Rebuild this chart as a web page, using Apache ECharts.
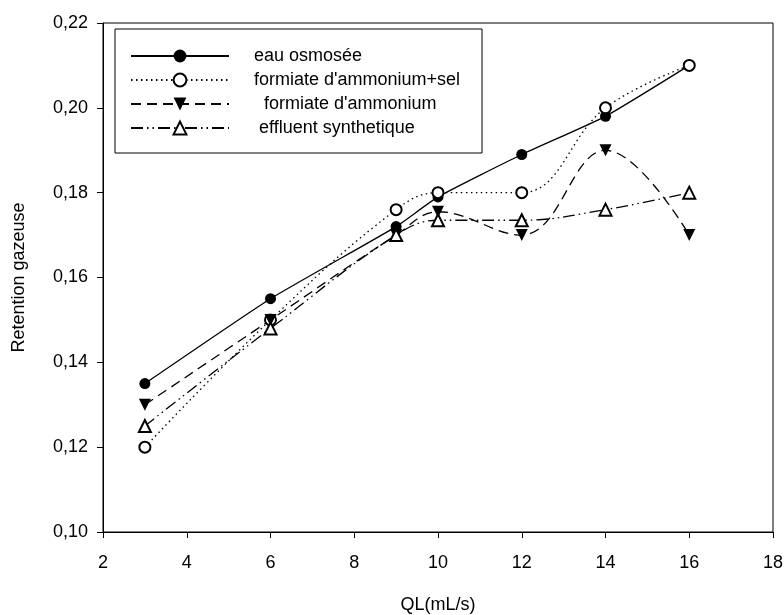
<!DOCTYPE html>
<html>
<head>
<meta charset="utf-8">
<script src="https://cdn.jsdelivr.net/npm/echarts@6/dist/echarts.min.js"></script>
<style>
  html, body { margin: 0; padding: 0; background: #fff; }
  #main { width: 784px; height: 615px; }
</style>
</head>
<body>
<div id="main"></div>
<script>
// débits QL (mL/s)
var ql = [3, 6, 9, 10, 12, 14, 16];

// rétention gazeuse par milieu
var eauOsmosee = [0.135, 0.155, 0.172, 0.179, 0.189, 0.198, 0.210];
var formiateSel = [0.120, 0.150, 0.176, 0.180, 0.180, 0.200, 0.210];
var formiate = [0.130, 0.150, 0.170, 0.1755, 0.170, 0.190, 0.170];
var effluent = [0.125, 0.148, 0.170, 0.1735, 0.1735, 0.176, 0.180];

var seriesNames = ['eau osmosée', "formiate d'ammonium+sel", "formiate d'ammonium", 'effluent synthetique'];
var legendIndent = [0, 0, 2, 1];

function pairs(ys) {
  return ql.map(function (x, i) { return [x, ys[i]]; });
}

var font = "'Liberation Sans', Arial, sans-serif";

var myChart = echarts.init(document.getElementById('main'));

var option = {
  backgroundColor: '#fff',
  animation: false,
  textStyle: { fontFamily: font, color: '#000' },
  grid: {
    left: 103, right: 11, top: 23, bottom: 83,
    outerBoundsMode: 'none',
    containLabel: false,
    show: true, borderColor: '#000', borderWidth: 1
  },
  legend: {
    orient: 'vertical',
    left: 115,
    top: 29,
    padding: [18, 22, 16, 15],
    borderColor: '#000',
    borderWidth: 1,
    itemWidth: 98,
    itemHeight: 16,
    itemGap: 6,
    textStyle: { fontFamily: font, fontSize: 18, color: '#000', padding: [0, 0, 0, 20] },
    formatter: function (name) {
      var k = seriesNames.indexOf(name);
      return new Array(legendIndent[k] + 1).join(' ') + name;
    },
    data: seriesNames
  },
  xAxis: {
    type: 'value',
    min: 2, max: 18, interval: 2,
    name: 'QL(mL/s)',
    nameLocation: 'middle',
    nameGap: 64,
    nameTextStyle: { fontSize: 18, fontFamily: font, color: '#000' },
    axisLine: { lineStyle: { color: '#000', width: 1 } },
    axisTick: { inside: false, length: 6, lineStyle: { color: '#000' } },
    axisLabel: { fontSize: 18, fontFamily: font, color: '#000', margin: 22 },
    splitLine: { show: false }
  },
  yAxis: {
    type: 'value',
    min: 0.10, max: 0.22, interval: 0.02,
    name: 'Retention gazeuse',
    nameLocation: 'middle',
    nameRotate: 90,
    nameGap: 75,
    nameTextStyle: { fontSize: 18, fontFamily: font, color: '#000' },
    axisLine: { show: true, lineStyle: { color: '#000', width: 1 } },
    axisTick: { show: true, inside: false, length: 6, lineStyle: { color: '#000' } },
    axisLabel: {
      fontSize: 18, fontFamily: font, color: '#000', margin: 15,
      formatter: function (v) { return v.toFixed(2).replace('.', ','); }
    },
    splitLine: { show: false }
  },
  series: [
    {
      name: seriesNames[0],
      type: 'line',
      data: pairs(eauOsmosee),
      smooth: 0.15,
      symbol: 'circle',
      symbolSize: 11,
      itemStyle: { color: '#000' },
      lineStyle: { color: '#000', width: 1.3, type: 'solid' }
    },
    {
      name: seriesNames[1],
      type: 'line',
      data: pairs(formiateSel),
      smooth: 0.4,
      symbol: 'emptyCircle',
      symbolSize: 11,
      itemStyle: { color: '#000', borderWidth: 1.3 },
      lineStyle: { color: '#000', width: 1.3, type: [1.5, 3.5] }
    },
    {
      name: seriesNames[2],
      type: 'line',
      data: pairs(formiate),
      smooth: 0.4,
      symbol: 'triangle',
      symbolRotate: 180,
      symbolSize: 12,
      itemStyle: { color: '#000' },
      lineStyle: { color: '#000', width: 1.3, type: [10, 6] }
    },
    {
      name: seriesNames[3],
      type: 'line',
      data: pairs(effluent),
      smooth: 0.4,
      symbol: 'emptyTriangle',
      symbolSize: 12,
      itemStyle: { color: '#000', borderWidth: 1.3 },
      lineStyle: { color: '#000', width: 1.3, type: [12, 4, 1.5, 4, 1.5, 4] }
    }
  ]
};

myChart.setOption(option);
window.onresize = myChart.resize;
</script>
</body>
</html>
